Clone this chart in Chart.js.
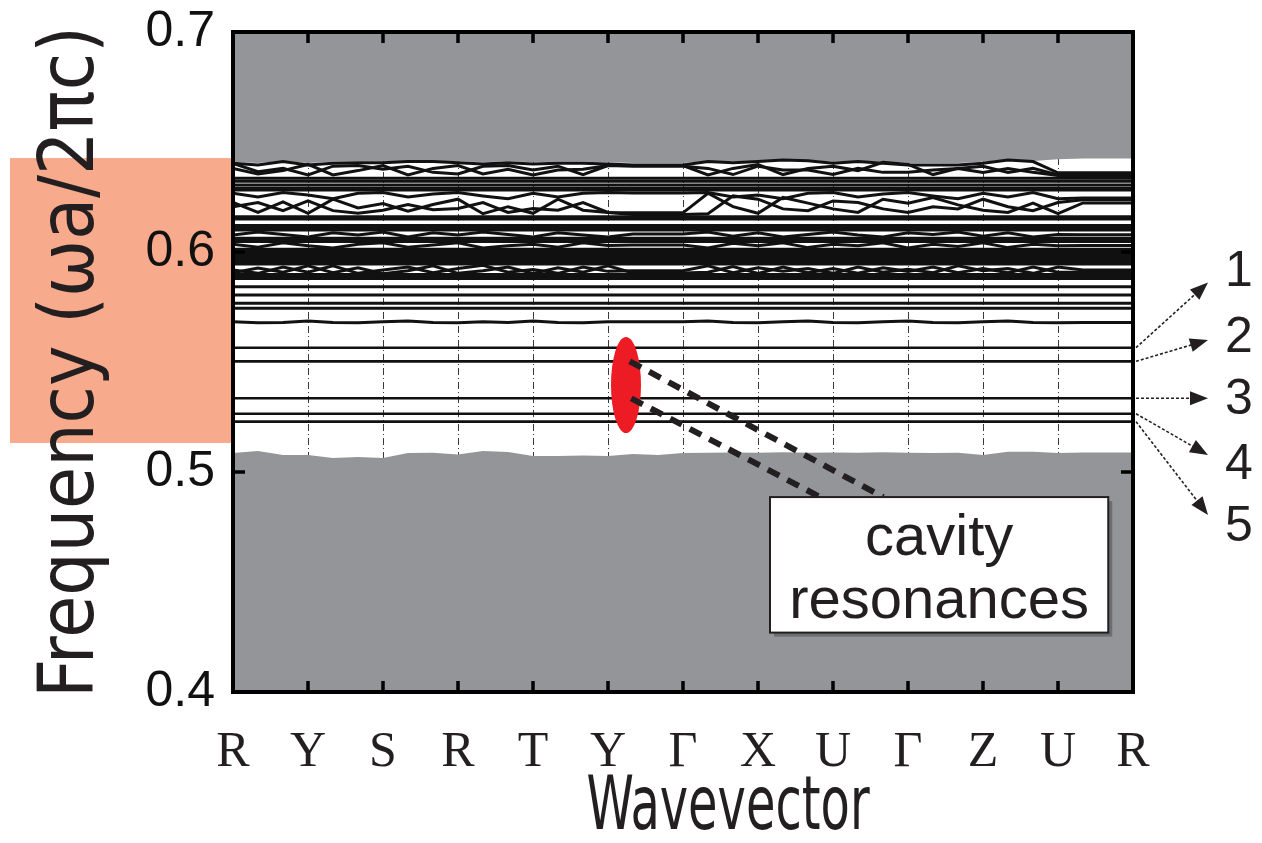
<!DOCTYPE html>
<html lang="en">
<head>
<meta charset="UTF-8">
<title>Cavity resonances - band diagram</title>
<script src="https://cdn.jsdelivr.net/npm/chart.js"></script>
<style>
  html, body { margin: 0; padding: 0; background: #fff; }
  #wrap { position: relative; width: 1262px; height: 843px; }
</style>
</head>
<body>
<div id="wrap"><canvas id="bandChart"></canvas></div>
<script>
// --- data ---
const kLabels = ['R', 'Y', 'S', 'R', 'T', 'Y', 'Γ', 'X', 'U', 'Γ', 'Z', 'U', 'R'];
const kPath = [0, 0.333, 0.667, 1, 1.333, 1.667, 2, 2.333, 2.667, 3, 3.333, 3.667, 4, 4.333, 4.667,
  5, 5.333, 5.667, 6, 6.333, 6.667, 7, 7.333, 7.667, 8, 8.333, 8.667, 9, 9.333, 9.667,
  10, 10.333, 10.667, 11, 11.333, 11.667, 12];

// edges of the band gap (gray = continuum)
const gapTop = [0.6410, 0.6405, 0.6414, 0.6405, 0.6410, 0.6412, 0.6412, 0.6414, 0.6414, 0.6412, 0.6408, 0.6412, 0.6408,
  0.6410, 0.6410, 0.6408, 0.6405, 0.6405, 0.6405, 0.6414, 0.6412, 0.6414, 0.6420, 0.6418, 0.6410,
  0.6414, 0.6410, 0.6405, 0.6405, 0.6405, 0.6410, 0.6420, 0.6414, 0.6422, 0.6425, 0.6425, 0.6425];
const gapBottom = [0.5086, 0.5095, 0.5077, 0.5077, 0.5064, 0.5068, 0.5064, 0.5086, 0.5088, 0.5080, 0.5095, 0.5091, 0.5073,
  0.5073, 0.5075, 0.5073, 0.5082, 0.5077, 0.5086, 0.5088, 0.5089, 0.5088, 0.5090, 0.5088, 0.5089,
  0.5088, 0.5090, 0.5088, 0.5086, 0.5088, 0.5077, 0.5092, 0.5092, 0.5086, 0.5089, 0.5089, 0.5089];

// dispersive bands inside the gap region
const bandA = [0.6403, 0.6396, 0.6411, 0.6396, 0.6403, 0.6406, 0.6406, 0.6411, 0.6411, 0.6406, 0.6400, 0.6406, 0.6400,
  0.6403, 0.6403, 0.6400, 0.6396, 0.6396, 0.6396, 0.6411, 0.6406, 0.6411, 0.6418, 0.6415, 0.6403,
  0.6411, 0.6403, 0.6396, 0.6396, 0.6396, 0.6403, 0.6418, 0.6411, 0.6360, 0.6360, 0.6360, 0.6360];
const bandB = [0.6380, 0.6355, 0.6370, 0.6398, 0.6350, 0.6370, 0.6393, 0.6350, 0.6380, 0.6393, 0.6355, 0.6376, 0.6350,
  0.6373, 0.6376, 0.6393, 0.6393, 0.6393, 0.6393, 0.6350, 0.6380, 0.6398, 0.6352, 0.6380, 0.6390,
  0.6370, 0.6408, 0.6398, 0.6352, 0.6380, 0.6390, 0.6362, 0.6380, 0.6350, 0.6350, 0.6350, 0.6350];
const bandC = [0.6403, 0.6365, 0.6380, 0.6350, 0.6390, 0.6393, 0.6376, 0.6390, 0.6362, 0.6355, 0.6390, 0.6393, 0.6373,
  0.6390, 0.6352, 0.6393, 0.6390, 0.6390, 0.6390, 0.6380, 0.6352, 0.6390, 0.6373, 0.6373, 0.6352,
  0.6380, 0.6362, 0.6362, 0.6373, 0.6380, 0.6362, 0.6380, 0.6362, 0.6348, 0.6343, 0.6343, 0.6343];
const bandG = [0.6267, 0.6250, 0.6270, 0.6259, 0.6242, 0.6267, 0.6270, 0.6250, 0.6264, 0.6270, 0.6255, 0.6242, 0.6267,
  0.6250, 0.6267, 0.6270, 0.6268, 0.6268, 0.6268, 0.6270, 0.6250, 0.6259, 0.6242, 0.6267, 0.6270,
  0.6250, 0.6264, 0.6270, 0.6255, 0.6242, 0.6267, 0.6250, 0.6270, 0.6242, 0.6245, 0.6245, 0.6245];
const bandH = [0.6225, 0.6180, 0.6228, 0.6176, 0.6240, 0.6200, 0.6220, 0.6185, 0.6216, 0.6240, 0.6174, 0.6206, 0.6176,
  0.6240, 0.6190, 0.6180, 0.6178, 0.6178, 0.6178, 0.6267, 0.6206, 0.6176, 0.6248, 0.6222, 0.6196,
  0.6180, 0.6240, 0.6222, 0.6248, 0.6214, 0.6190, 0.6180, 0.6222, 0.6174, 0.6223, 0.6223, 0.6223];
const bandI = [0.6206, 0.6225, 0.6188, 0.6232, 0.6188, 0.6176, 0.6190, 0.6216, 0.6192, 0.6198, 0.6225, 0.6180, 0.6198,
  0.6190, 0.6225, 0.6180, 0.6170, 0.6170, 0.6170, 0.6174, 0.6255, 0.6240, 0.6196, 0.6188, 0.6232,
  0.6225, 0.6196, 0.6180, 0.6206, 0.6196, 0.6240, 0.6206, 0.6188, 0.6225, 0.6238, 0.6238, 0.6238];
const bandL = [0.6077, 0.6091, 0.6080, 0.6068, 0.6087, 0.6077, 0.6091, 0.6068, 0.6087, 0.6077, 0.6091, 0.6080, 0.6068,
  0.6087, 0.6077, 0.6068, 0.6082, 0.6082, 0.6082, 0.6091, 0.6072, 0.6087, 0.6068, 0.6080, 0.6091,
  0.6077, 0.6068, 0.6087, 0.6080, 0.6091, 0.6072, 0.6087, 0.6068, 0.6080, 0.6078, 0.6078, 0.6078];
const bandM = [0.6035, 0.6022, 0.6042, 0.6028, 0.6018, 0.6035, 0.6042, 0.6022, 0.6032, 0.6042, 0.6018, 0.6028, 0.6035,
  0.6022, 0.6042, 0.6030, 0.6032, 0.6032, 0.6032, 0.6018, 0.6040, 0.6028, 0.6042, 0.6020, 0.6035,
  0.6028, 0.6042, 0.6018, 0.6035, 0.6025, 0.6042, 0.6020, 0.6035, 0.6028, 0.6030, 0.6030, 0.6030];
const bandP = [0.5918, 0.5903, 0.5932, 0.5908, 0.5937, 0.5903, 0.5918, 0.5932, 0.5906, 0.5925, 0.5940, 0.5908, 0.5920,
  0.5903, 0.5932, 0.5912, 0.5915, 0.5915, 0.5915, 0.5937, 0.5906, 0.5928, 0.5912, 0.5925, 0.5903,
  0.5932, 0.5908, 0.5922, 0.5906, 0.5937, 0.5915, 0.5925, 0.5903, 0.5932, 0.5918, 0.5918, 0.5918];
const bandQ = [0.5905, 0.5927, 0.5908, 0.5937, 0.5906, 0.5928, 0.5901, 0.5915, 0.5937, 0.5903, 0.5915, 0.5932, 0.5903,
  0.5928, 0.5908, 0.5937, 0.5905, 0.5905, 0.5905, 0.5908, 0.5934, 0.5903, 0.5932, 0.5906, 0.5925,
  0.5903, 0.5928, 0.5912, 0.5932, 0.5906, 0.5925, 0.5906, 0.5932, 0.5908, 0.5908, 0.5908, 0.5908];
const bandW = [0.5683, 0.5678, 0.5680, 0.5686, 0.5680, 0.5678, 0.5683, 0.5686, 0.5680, 0.5678, 0.5683, 0.5680, 0.5686,
  0.5680, 0.5678, 0.5683, 0.5683, 0.5683, 0.5683, 0.5686, 0.5680, 0.5678, 0.5683, 0.5686, 0.5680,
  0.5678, 0.5683, 0.5686, 0.5680, 0.5678, 0.5683, 0.5686, 0.5680, 0.5678, 0.5680, 0.5680, 0.5680];

// nearly flat bands
const flatBands = [0.6335, 0.6322, 0.6305, 0.6290, 0.6282, 0.6160, 0.6150, 0.6120, 0.6108, 0.6100,
  0.6063, 0.6055, 0.6048, 0.6012, 0.6003, 0.5995, 0.5987, 0.5979, 0.5971, 0.5963, 0.5955, 0.5946,
  0.5898, 0.5890, 0.5880, 0.5842, 0.5805, 0.5767, 0.5744];

// cavity resonances 1..5
const cavityModes = [0.5565, 0.5503, 0.5335, 0.5265, 0.5229];
const modeNames = ['1', '2', '3', '4', '5'];

// shaded frequency window on the left
const highlightRange = [0.5132, 0.6427];

// --- build datasets ---
const lineStyle = { borderColor: '#111', borderWidth: 3, pointRadius: 0, fill: false, tension: 0 };
const toPts = vals => vals.map((v, i) => ({ x: kPath[i], y: v }));

const datasets = [];
[bandA, bandB, bandC, bandG, bandH, bandI, bandL, bandM, bandP, bandQ, bandW].forEach(b => {
  datasets.push(Object.assign({ data: toPts(b) }, lineStyle));
});
flatBands.forEach(f => {
  datasets.push(Object.assign({ data: [{ x: 0, y: f }, { x: 12, y: f }] }, lineStyle));
});
cavityModes.forEach(f => {
  datasets.push(Object.assign({ data: [{ x: 0, y: f }, { x: 12, y: f }] }, lineStyle, { borderWidth: 2.6 }));
});
// continuum (last in the list = painted first)
datasets.push({ data: toPts(gapTop), borderWidth: 0, pointRadius: 0, fill: 'end', backgroundColor: '#939598' });
datasets.push({ data: toPts(gapBottom), borderWidth: 0, pointRadius: 0, fill: 'start', backgroundColor: '#939598' });

// --- extra drawing: shaded window, cavity marker, label box, frame, arrows ---
const decor = {
  id: 'decor',
  beforeDraw(chart) {
    const { ctx, chartArea, scales: { y } } = chart;
    const top = y.getPixelForValue(highlightRange[1]);
    const bot = y.getPixelForValue(highlightRange[0]);
    ctx.save();
    ctx.fillStyle = '#f8aa8c';
    ctx.fillRect(10, top, chartArea.left - 10, bot - top);
    ctx.restore();
  },
  afterDraw(chart) {
    const { ctx, chartArea: ca, scales: { x, y } } = chart;
    ctx.save();

    // red ellipse around the resonances
    const ex = x.getPixelForValue(5.24);
    const eTop = y.getPixelForValue(0.5614), eBot = y.getPixelForValue(0.5177);
    ctx.fillStyle = '#ed1c24';
    ctx.beginPath();
    ctx.ellipse(ex, (eTop + eBot) / 2, 15, (eBot - eTop) / 2, 0, 0, Math.PI * 2);
    ctx.fill();

    // dashed pointers to the text box
    ctx.strokeStyle = '#231f20';
    ctx.lineWidth = 6;
    ctx.setLineDash([13, 9]);
    [[5.29, cavityModes[1], 8.67], [5.31, cavityModes[2], 7.83]].forEach(([k0, f0, k1]) => {
      ctx.beginPath();
      ctx.moveTo(x.getPixelForValue(k0), y.getPixelForValue(f0));
      ctx.lineTo(x.getPixelForValue(k1), y.getPixelForValue(0.4886));
      ctx.stroke();
    });
    ctx.setLineDash([]);

    // "cavity resonances" box
    const bx0 = x.getPixelForValue(7.16), bx1 = x.getPixelForValue(11.67);
    const by0 = y.getPixelForValue(0.4886), by1 = y.getPixelForValue(0.4270);
    ctx.fillStyle = '#6d6e71';
    ctx.fillRect(bx0 + 4, by0 + 4, bx1 - bx0, by1 - by0);
    ctx.fillStyle = '#fff';
    ctx.fillRect(bx0, by0, bx1 - bx0, by1 - by0);
    ctx.lineWidth = 2;
    ctx.strokeStyle = '#231f20';
    ctx.strokeRect(bx0, by0, bx1 - bx0, by1 - by0);
    ctx.fillStyle = '#231f20';
    ctx.font = '58px "Liberation Sans", Arial, sans-serif';
    ctx.textAlign = 'center';
    ctx.textBaseline = 'alphabetic';
    ctx.fillText('cavity', (bx0 + bx1) / 2, by0 + 58);
    ctx.fillText('resonances', (bx0 + bx1) / 2, by0 + 121);

    // frame and inward ticks
    ctx.strokeStyle = '#000';
    ctx.lineWidth = 4;
    ctx.strokeRect(ca.left, ca.top, ca.right - ca.left, ca.bottom - ca.top);
    ctx.lineWidth = 3.5;
    ctx.beginPath();
    for (let k = 1; k < kLabels.length - 1; k++) {
      const px = x.getPixelForValue(k);
      ctx.moveTo(px, ca.top); ctx.lineTo(px, ca.top + 11);
      ctx.moveTo(px, ca.bottom); ctx.lineTo(px, ca.bottom - 11);
    }
    [0.5, 0.6].forEach(f => {
      const py = y.getPixelForValue(f);
      ctx.moveTo(ca.left, py); ctx.lineTo(ca.left + 12, py);
      ctx.moveTo(ca.right, py); ctx.lineTo(ca.right - 12, py);
    });
    ctx.stroke();

    // numbered arrows on the right
    const tips = [0.5861, 0.5600, 0.5335, 0.5077, 0.4805];
    const labelF = [0.5909, 0.5609, 0.5327, 0.5032, 0.4750];
    ctx.font = '50px "Liberation Sans", Arial, sans-serif';
    ctx.textBaseline = 'middle';
    cavityModes.forEach((f, i) => {
      const sx = ca.right + 3, sy = y.getPixelForValue(f);
      const tx = ca.right + 75, ty = y.getPixelForValue(tips[i]);
      const ang = Math.atan2(ty - sy, tx - sx);
      ctx.strokeStyle = '#231f20';
      ctx.lineWidth = 1.6;
      ctx.setLineDash([3, 2]);
      ctx.beginPath();
      ctx.moveTo(sx, sy);
      ctx.lineTo(tx - 12 * Math.cos(ang), ty - 12 * Math.sin(ang));
      ctx.stroke();
      ctx.setLineDash([]);
      ctx.fillStyle = '#231f20';
      ctx.beginPath();
      ctx.moveTo(tx, ty);
      ctx.lineTo(tx - 18 * Math.cos(ang) + 7 * Math.sin(ang), ty - 18 * Math.sin(ang) - 7 * Math.cos(ang));
      ctx.lineTo(tx - 18 * Math.cos(ang) - 7 * Math.sin(ang), ty - 18 * Math.sin(ang) + 7 * Math.cos(ang));
      ctx.closePath();
      ctx.fill();
      ctx.fillText(modeNames[i], ca.right + 106, y.getPixelForValue(labelF[i]));
    });

    // x axis title, in a narrow face
    ctx.fillStyle = '#231f20';
    ctx.font = '74px "DejaVu Sans Condensed", "Liberation Sans", sans-serif';
    ctx.textAlign = 'center';
    ctx.textBaseline = 'alphabetic';
    ctx.translate(x.getPixelForValue(6.6), 829);
    ctx.scale(0.72, 1);
    ctx.fillText('Wavevector', 0, 0);
    ctx.restore();
  }
};

const gridStyle = { color: '#3a3a3a', lineWidth: 1, drawTicks: false };
const ctx = document.getElementById('bandChart').getContext('2d');
const bandChart = new Chart(ctx, {
  type: 'line',
  data: { datasets: datasets },
  options: {
    responsive: true,
    maintainAspectRatio: false,
    animation: false,
    layout: { padding: { top: 32, right: 129, left: 0, bottom: 0 } },
    plugins: { legend: { display: false }, tooltip: { enabled: false } },
    scales: {
      x: {
        type: 'linear', min: 0, max: 12, z: 1,
        afterFit: s => { s.height = 151; s.paddingLeft = 0; s.paddingRight = 0; },
        grid: gridStyle,
        border: { display: false, dash: [7, 3, 1, 3] },
        ticks: {
          stepSize: 1, autoSkip: false, maxRotation: 0, padding: 31, color: '#231f20',
          font: { family: '"Liberation Serif", "Times New Roman", serif', size: 50 },
          callback: v => kLabels[v]
        },
        title: { display: false }
      },
      y: {
        min: 0.4, max: 0.7, z: 1,
        afterFit: s => { s.width = 233; s.paddingTop = 0; s.paddingBottom = 0; },
        grid: gridStyle,
        border: { display: false, dash: [7, 3, 1, 3] },
        ticks: {
          stepSize: 0.1, padding: 18, color: '#111',
          font: { family: '"Liberation Sans", Arial, sans-serif', size: 50 },
          callback: v => v.toFixed(1)
        },
        title: {
          display: true, text: 'Frequency (ωa/2πc)', color: '#231f20', padding: { top: 28, bottom: 0 },
          font: { family: '"DejaVu Sans Condensed", "Liberation Sans", sans-serif', size: 76 }
        }
      }
    }
  },
  plugins: [decor]
});
</script>
</body>
</html>
